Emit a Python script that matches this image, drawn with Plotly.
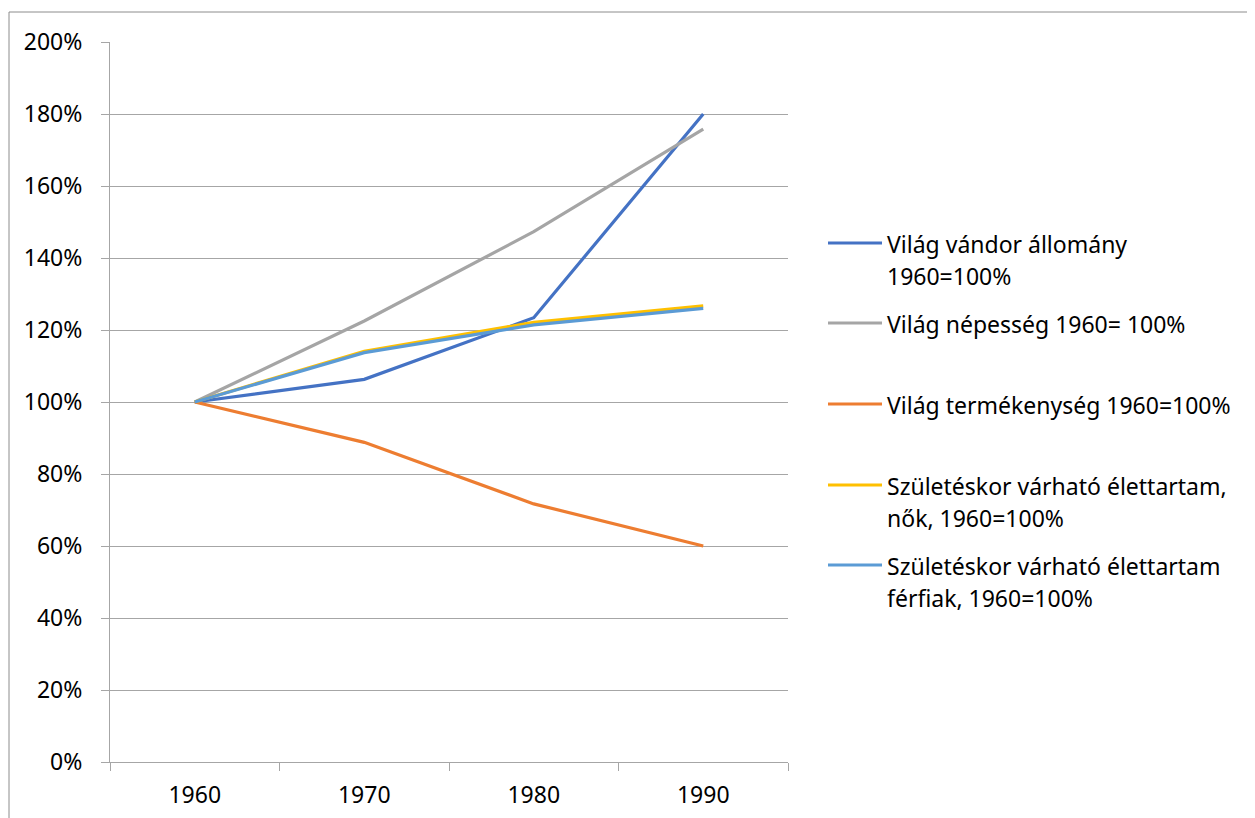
import plotly.graph_objects as go

# Data (1960 = 100%)
years = ["1960", "1970", "1980", "1990"]
vandor = [1.00, 1.063, 1.234, 1.800]
nepesseg = [1.00, 1.225, 1.473, 1.758]
termekenyseg = [1.00, 0.888, 0.717, 0.600]
nok = [1.00, 1.141, 1.221, 1.267]
ferfiak = [1.00, 1.137, 1.214, 1.260]

series_names = [
    "Világ vándor állomány\n1960=100%",
    "Világ népesség 1960= 100%",
    "Világ termékenység 1960=100%",
    "Születéskor várható élettartam,\nnők, 1960=100%",
    "Születéskor várható élettartam\nférfiak, 1960=100%",
]
series_values = [vandor, nepesseg, termekenyseg, nok, ferfiak]
colors = ["#4472C4", "#A5A5A5", "#ED7D31", "#FFC000", "#5B9BD5"]

FONT = "Noto Sans"
OFF = 8  # page body margin
W, H = 1255 - OFF, 818 - OFF
# plot area in page pixels
L, R, T, B = 110, 788, 42, 762


def px_x(px):
    return (px - L) / (R - L)


def px_y(py):
    return (B - py) / (B - T)


fig = go.Figure()
for name, vals, col in zip(series_names, series_values, colors):
    fig.add_trace(go.Scatter(
        x=years, y=vals, mode="lines", name=name.replace("\n", " "),
        line=dict(color=col, width=3.2), showlegend=False,
    ))

# Legend drawn on the right, Excel-style
legend_rows = [243, 323, 404, 485, 565]
shapes = [dict(type="rect", xref="paper", yref="paper",
               x0=px_x(9), x1=px_x(1280), y0=px_y(840), y1=px_y(12),
               line=dict(color="#8c8c8c", width=1), layer="below")]
annotations = []
for name, col, row in zip(series_names, colors, legend_rows):
    shapes.append(dict(type="line", xref="paper", yref="paper",
                       x0=px_x(828), x1=px_x(882), y0=px_y(row), y1=px_y(row),
                       line=dict(color=col, width=3.2)))
    for i, part in enumerate(name.split("\n")):
        annotations.append(dict(
            text=part, xref="paper", yref="paper", x=px_x(885), y=px_y(row + 1 + 32 * i),
            xanchor="left", yanchor="middle", showarrow=False,
            font=dict(family=FONT, size=23, color="#000000"),
        ))

fig.update_layout(
    width=W, height=H,
    margin=dict(l=L - OFF, r=W - (R - OFF), t=T - OFF, b=H - (B - OFF)),
    paper_bgcolor="white", plot_bgcolor="white",
    font=dict(family=FONT, size=23, color="#000000"),
    shapes=shapes, annotations=annotations,
    xaxis=dict(
        type="category", range=[-0.5, 3.5], tickson="boundaries",
        ticks="outside", ticklen=8, tickcolor="#a6a6a6",
        showline=True, linecolor="#a6a6a6", linewidth=1,
        showgrid=False, ticklabelstandoff=12, automargin=False,
    ),
    yaxis=dict(
        range=[0, 2.0], dtick=0.2, tickformat=".0%",
        ticks="outside", ticklen=8, tickcolor="#a6a6a6",
        showline=True, linecolor="#a6a6a6", linewidth=1,
        showgrid=True, gridcolor="#a6a6a6", gridwidth=1,
        zeroline=False, ticklabelstandoff=14, automargin=False,
    ),
)

fig.write_html("out.html")
